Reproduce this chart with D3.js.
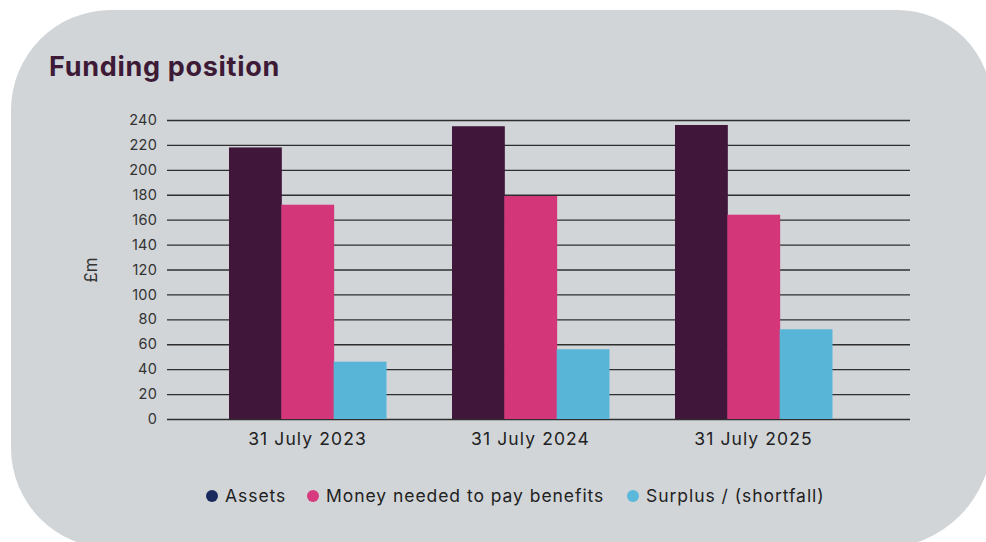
<!DOCTYPE html>
<html><head><meta charset="utf-8">
<script src="https://cdn.jsdelivr.net/npm/d3@7"></script>
<style>html,body{margin:0;padding:0;background:#fff;}svg{display:block;}</style>
</head><body>
<svg id="c" width="986" height="542"></svg>
<script>
const categories = ["31 July 2023", "31 July 2024", "31 July 2025"];
const seriesNames = ["Assets", "Money needed to pay benefits", "Surplus / (shortfall)"];
const assets = [218, 235, 236];
const moneyNeeded = [172, 179, 164];
const surplus = [46, 56, 72];
const yTicks = [0,20,40,60,80,100,120,140,160,180,200,220,240];
const barColors = ["#40173a", "#d3377a", "#58b5d8"];
const legendColors = ["#1a2a5e", "#d63a7f", "#5bb8da"];

const series = [assets, moneyNeeded, surplus];
const svg = d3.select("#c");
const FONT = "Inter, 'Noto Sans', sans-serif";

function roundedPath(x0,y0,x1,y1,tl,tr,br,bl){
  const p = d3.path();
  p.moveTo(x0+tl,y0);
  p.lineTo(x1-tr,y0); p.arcTo(x1,y0,x1,y0+tr,tr);
  p.lineTo(x1,y1-br); p.arcTo(x1,y1,x1-br,y1,br);
  p.lineTo(x0+bl,y1); p.arcTo(x0,y1,x0,y1-bl,bl);
  p.lineTo(x0,y0+tl); p.arcTo(x0,y0,x0+tl,y0,tl);
  p.closePath();
  return p.toString();
}
svg.append("path").attr("d", roundedPath(11,10,992,548,100,95,110,100)).attr("fill","#d1d5d8");

svg.append("text").attr("x",49).attr("y",76).text("Funding position")
  .attr("font-family",FONT).attr("font-weight",700)
  .attr("font-size",27).attr("fill","#3d1a36").attr("letter-spacing",0.7);

const y = d3.scaleLinear().domain([0,240]).range([419,120]);
const gridX0 = 167, gridX1 = 910;

const yAxis = d3.axisLeft(y).tickValues(yTicks).tickSize(-(gridX1-gridX0)).tickPadding(10);
const gy = svg.append("g").attr("transform",`translate(${gridX0},0)`).call(yAxis);
gy.select(".domain").remove();
gy.selectAll(".tick line").attr("stroke","#2e2e2e").attr("stroke-width",1.4);
gy.selectAll(".tick text").attr("font-family",FONT)
  .attr("font-size",14.5).attr("fill","#333").attr("letter-spacing",0.2);

svg.append("text").attr("transform","translate(97,270) rotate(-90)")
  .attr("text-anchor","middle").text("£m")
  .attr("font-family",FONT).attr("font-size",17).attr("fill","#333");

const x0 = d3.scaleBand().domain(categories).range([196,865]).paddingInner(0).paddingOuter(0);
const groupW = 157;
const x1 = d3.scaleBand().domain(d3.range(3)).range([0,groupW]);

const g = svg.append("g");
categories.forEach((c,ci)=>{
  const gx = x0(c) + (x0.bandwidth()-groupW)/2;
  series.forEach((s,si)=>{
    g.append("rect").attr("x",gx + x1(si)).attr("width",x1.bandwidth()+0.5)
      .attr("y",y(s[ci])).attr("height",y(0)-y(s[ci])).attr("fill",barColors[si]);
  });
});

const xAxis = d3.axisBottom(x0).tickSize(0).tickPadding(14);
const gx = svg.append("g").attr("transform","translate(0,419)").call(xAxis);
gx.select(".domain").remove();
gx.selectAll(".tick text").attr("font-family",FONT)
  .attr("font-size",17.5).attr("fill","#222").attr("letter-spacing",1.1);

const legendX = [212, 313, 633];
const lg = svg.append("g");
seriesNames.forEach((n,i)=>{
  lg.append("circle").attr("cx",legendX[i]).attr("cy",496).attr("r",6).attr("fill",legendColors[i]);
  lg.append("text").attr("x",legendX[i]+13).attr("y",502).text(n)
    .attr("font-family",FONT).attr("font-size",17.5).attr("fill","#222").attr("letter-spacing",0.95);
});
</script>
</body></html>
